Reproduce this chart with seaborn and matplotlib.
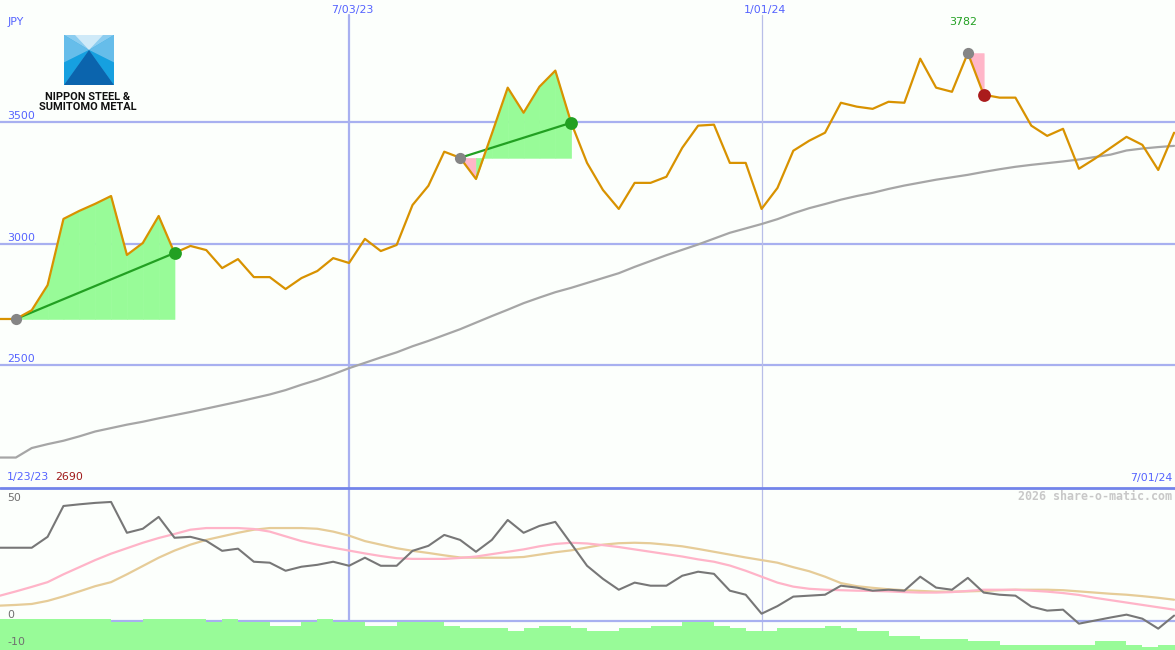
import matplotlib
matplotlib.use("Agg")
import matplotlib.pyplot as plt
import matplotlib.dates as mdates
import pandas as pd
import seaborn as sns

# weekly data, 1/30/23 .. 7/01/24
weeks = pd.date_range("2023-01-30", periods=75, freq="7D")

price = [2690, 2690, 2726, 2829, 3101, 3134, 3163, 3195, 2953, 3002,
         3113, 2961, 2990, 2973, 2899, 2936, 2862, 2862, 2813, 2858,
         2887, 2940, 2920, 3019, 2969, 2994, 3158, 3237, 3377, 3352,
         3265, 3451, 3640, 3537, 3644, 3710, 3496, 3331, 3220, 3142,
         3249, 3249, 3274, 3393, 3484, 3488, 3331, 3331, 3142, 3228,
         3381, 3422, 3455, 3578, 3562, 3553, 3582, 3578, 3759, 3640,
         3623, 3782, 3611, 3599, 3599, 3484, 3442, 3471, 3307, 3348,
         3393, 3438, 3405, 3302, 3455]

mov_avg = [2121, 2121, 2160, 2176, 2190, 2208, 2228, 2242, 2256, 2268,
           2282, 2295, 2308, 2322, 2336, 2350, 2365, 2380, 2398, 2420,
           2440, 2463, 2488, 2510, 2532, 2553, 2578, 2600, 2624, 2648,
           2675, 2702, 2728, 2755, 2778, 2800, 2818, 2838, 2858, 2878,
           2904, 2928, 2952, 2974, 2996, 3020, 3044, 3062, 3080, 3100,
           3124, 3145, 3162, 3180, 3195, 3208, 3224, 3238, 3250, 3262,
           3272, 3282, 3294, 3305, 3315, 3323, 3330, 3337, 3345, 3355,
           3365, 3382, 3390, 3396, 3401]

osc = [30.7, 30.7, 30.7, 35.3, 48.3, 49.0, 49.6, 50.0, 37.0, 38.7,
       43.7, 34.9, 35.3, 33.6, 29.4, 30.3, 24.8, 24.4, 21.0, 22.7,
       23.5, 24.8, 23.1, 26.5, 23.1, 23.1, 29.4, 31.5, 36.1, 34.0,
       29.0, 34.0, 42.4, 37.0, 39.9, 41.6, 32.4, 23.1, 17.6, 13.0,
       16.0, 14.7, 14.7, 18.9, 20.6, 19.7, 12.6, 10.9, 2.9, 6.1,
       10.1, 10.5, 10.9, 14.7, 13.9, 12.6, 13.0, 12.6, 18.5, 13.9,
       13.0, 18.0, 11.8, 10.9, 10.5, 5.9, 4.2, 4.6, -1.3, 0.0,
       1.3, 2.5, 0.8, -3.4, 2.1]

osc_fast = [10.5, 12.3, 14.2, 16.2, 19.5, 22.5, 25.5, 28.2, 30.5, 32.8,
            34.8, 36.5, 38.3, 39.0, 39.0, 39.0, 38.6, 37.5, 35.5, 33.5,
            32.0, 30.7, 29.5, 28.3, 27.2, 26.3, 26.0, 26.0, 26.0, 26.4,
            27.0, 28.0, 29.0, 30.0, 31.3, 32.3, 32.8, 32.5, 31.8, 31.0,
            30.0, 29.0, 28.0, 27.0, 25.8, 24.8, 23.2, 21.0, 18.5, 16.0,
            14.3, 13.4, 13.0, 12.8, 12.6, 12.5, 12.3, 12.0, 11.8, 11.8,
            12.0, 12.5, 13.0, 13.0, 13.0, 12.6, 12.2, 11.6, 10.8, 9.6,
            8.6, 7.6, 6.6, 5.6, 4.6]

osc_slow = [6.3, 6.6, 7.0, 8.3, 10.2, 12.3, 14.5, 16.2, 19.5, 23.0,
            26.5, 29.5, 32.0, 34.0, 35.5, 37.0, 38.3, 39.0, 39.0, 39.0,
            38.7, 37.5, 35.8, 33.5, 32.0, 30.5, 29.4, 28.5, 27.5, 26.6,
            26.5, 26.5, 26.5, 26.8, 27.8, 28.8, 29.6, 30.8, 32.0, 32.6,
            32.8, 32.6, 32.0, 31.3, 30.2, 29.0, 27.8, 26.6, 25.5, 24.4,
            22.5, 20.8, 18.5, 15.8, 14.5, 13.8, 13.2, 12.8, 12.5, 12.2,
            12.2, 12.3, 12.5, 12.8, 13.0, 13.0, 13.0, 12.8, 12.3, 11.8,
            11.3, 10.9, 10.3, 9.6, 8.8]

bars = [0.5, 0.5, 0.5, 0.5, 0.5, 0.5, 0.5, -0.7, -0.7, 0.5,
        0.5, 0.5, 0.5, -0.7, 0.5, -0.7, -0.7, -2.1, -2.1, -0.7,
        0.5, -0.7, -0.7, -2.1, -2.1, -0.7, -0.7, -0.7, -2.1, -3.2,
        -3.2, -3.2, -4.6, -3.2, -2.1, -2.1, -3.2, -4.6, -4.6, -3.2,
        -3.2, -2.1, -2.1, -0.7, -0.7, -2.1, -3.2, -4.6, -4.6, -3.2,
        -3.2, -3.2, -2.1, -3.2, -4.6, -4.6, -6.3, -6.3, -7.7, -7.7,
        -7.7, -8.8, -8.8, -10.1, -10.1, -10.1, -10.1, -10.1, -10.1, -8.8,
        -8.8, -10.1, -11.2, -10.1, -10.1]

# trades: index of entry week and exit week
trade_entry = [1, 29, 61]
trade_exit = [11, 36, 62]

price_grid = [2500, 3000, 3500]
marked_dates = ["2023-07-03", "2024-01-01"]
marked_labels = ["7/03/23", "1/01/24"]

BG = "#fcfffc"
GRID = "#a8b0f0"
BLUE_TXT = "#5563ff"
GREEN = "#22a022"
FILL_GREEN = "#98fb98"
FILL_PINK = "#ffb6c8"

sns.set_style("white")
plt.rcParams["font.family"] = ["DejaVu Sans"]

xd = list(mdates.date2num(weeks))
x_left = mdates.date2num(pd.Timestamp("2023-01-30"))
x_right = x_left + 518.4

fig = plt.figure(figsize=(11.75, 6.5), dpi=100, facecolor=BG)
ax = fig.add_axes([0, 163 / 650, 1, 487 / 650])
ax2 = fig.add_axes([0, 0, 1, 163 / 650])
for a in (ax, ax2):
    a.set_axis_off()
    a.set_xlim(x_left, x_right)
ax.set_ylim(2000, 4000)
ax2.set_ylim(-12.4, 56.3)

# ---- upper panel
for g in price_grid:
    ax.axhline(g, color=GRID, lw=1.6, zorder=1)
    ax.text(0.006, g + 12, str(g), transform=ax.get_yaxis_transform(),
            color=BLUE_TXT, fontsize=7.9, va="baseline", ha="left")

vl_style = [dict(color=GRID, lw=1.6), dict(color="#b8bee8", lw=0.9)]
for d, lab, st in zip(marked_dates, marked_labels, vl_style):
    xv = mdates.date2num(pd.Timestamp(d))
    ax.axvline(xv, ymax=1 - 15 / 487, zorder=1, **st)
    ax2.axvline(xv, zorder=1, **st)
    ax.text(xv + 1.5, 1 - 13 / 487, lab, transform=ax.get_xaxis_transform(),
            color=BLUE_TXT, fontsize=7.9, ha="center", va="baseline")

sns.lineplot(x=xd, y=mov_avg, ax=ax, color="#a6a6a6", lw=1.6, zorder=3, legend=False)

for ent, ext in zip(trade_entry, trade_exit):
    p0 = price[ent]
    for i in range(ent, ext):
        col = FILL_GREEN if price[i + 1] >= p0 else FILL_PINK
        ax.fill_between(xd[i:i + 2], price[i:i + 2], p0, color=col, lw=0.4,
                        edgecolor=col, zorder=2)
    if price[ext] > p0:
        sns.lineplot(x=[xd[ent], xd[ext]], y=[p0, price[ext]], ax=ax,
                     color=GREEN, lw=1.6, zorder=4, legend=False)

sns.lineplot(x=xd, y=price, ax=ax, color="#d89200", lw=1.6, zorder=5, legend=False)

for ent, ext in zip(trade_entry, trade_exit):
    win = price[ext] > price[ent]
    ax.scatter(xd[ent], price[ent], s=65, color="#858585", zorder=6, lw=0)
    ax.scatter(xd[ext], price[ext], s=85, color=GREEN if win else "#aa1c1c",
               zorder=6, lw=0)

imax = price.index(max(price))
ax.text(xd[imax] - 2, 1 - 25 / 487, str(max(price)), transform=ax.get_xaxis_transform(),
        color=GREEN, fontsize=7.9, ha="center", va="baseline")

ax.text(0.006, 1 - 25 / 487, "JPY", transform=ax.transAxes, color=BLUE_TXT,
        fontsize=7.9, va="baseline")
ax.text(0.006, 7 / 487, "1/23/23", transform=ax.transAxes, color=BLUE_TXT,
        fontsize=7.9, va="baseline")
ax.text(55 / 1175, 7 / 487, str(min(price)), transform=ax.transAxes, color="#a01a1a",
        fontsize=7.9, va="baseline")
ax.text(1172 / 1175, 6 / 487, "7/01/24", transform=ax.transAxes, color=BLUE_TXT,
        fontsize=7.9, va="baseline", ha="right")

# ---- lower panel
ax2.axhline(55.9, color="#7284ea", lw=2.0, zorder=7, clip_on=False)
ax2.axhline(0, color=GRID, lw=1.6, zorder=1)
bottom = -12.4
ax2.bar(xd, [v - bottom for v in bars], bottom=bottom, width=7, align="edge",
        color=FILL_GREEN, lw=0, zorder=2)
sns.lineplot(x=xd, y=osc_slow, ax=ax2, color="#e6cc98", lw=1.6, zorder=3, legend=False)
sns.lineplot(x=xd, y=osc_fast, ax=ax2, color="#ffb4c8", lw=1.6, zorder=3, legend=False)
sns.lineplot(x=xd, y=osc, ax=ax2, color="#777777", lw=1.5, zorder=4, legend=False)

for v, lab in [(50.6, "50"), (1.0, "0"), (-10.3, "-10")]:
    ax2.text(0.006, v, lab, transform=ax2.get_yaxis_transform(), color="#707070",
             fontsize=7.9, va="baseline", zorder=8)
ax2.text(1172 / 1175, 50.8, "2026 share-o-matic.com", transform=ax2.get_yaxis_transform(),
         color="#c8c8c8", fontsize=8.4, fontweight="bold", family="DejaVu Sans Mono",
         ha="right", va="baseline")

# ---- logo
lg = fig.add_axes([64 / 1175, (650 - 85) / 650, 50 / 1175, 50 / 650])
lg.set_axis_off()
lg.set_xlim(0, 1)
lg.set_ylim(0, 1)
c = (0.5, 0.7)
lg.fill([0, 1, 1, 0], [0, 0, 1, 1], color="#3aaee6", lw=0)
lg.fill([0, 1, c[0]], [1, 1, c[1]], color="#8ccdf0", lw=0)
lg.fill([0.22, 0.78, c[0]], [1, 1, c[1]], color="#cfeaf8", lw=0)
lg.fill([0, c[0], 0], [1, c[1], 0.45], color="#66bdea", lw=0)
lg.fill([1, c[0], 1], [1, c[1], 0.45], color="#66bdea", lw=0)
lg.fill([0, c[0], 0], [0.45, c[1], 0], color="#16a0e0", lw=0)
lg.fill([1, c[0], 1], [0.45, c[1], 0], color="#16a0e0", lw=0)
lg.fill([0, 1, c[0]], [0, 0, c[1]], color="#0b64ad", lw=0)
fig.text(88 / 1175, (650 - 99.5) / 650, "NIPPON STEEL &", family="Roboto",
         fontweight="bold", fontsize=7.9, color="#111111", ha="center", va="baseline")
fig.text(88 / 1175, (650 - 110.5) / 650, "SUMITOMO METAL", family="Roboto",
         fontweight="bold", fontsize=7.9, color="#111111", ha="center", va="baseline")

fig.savefig("out.png", dpi=100, facecolor=BG)
